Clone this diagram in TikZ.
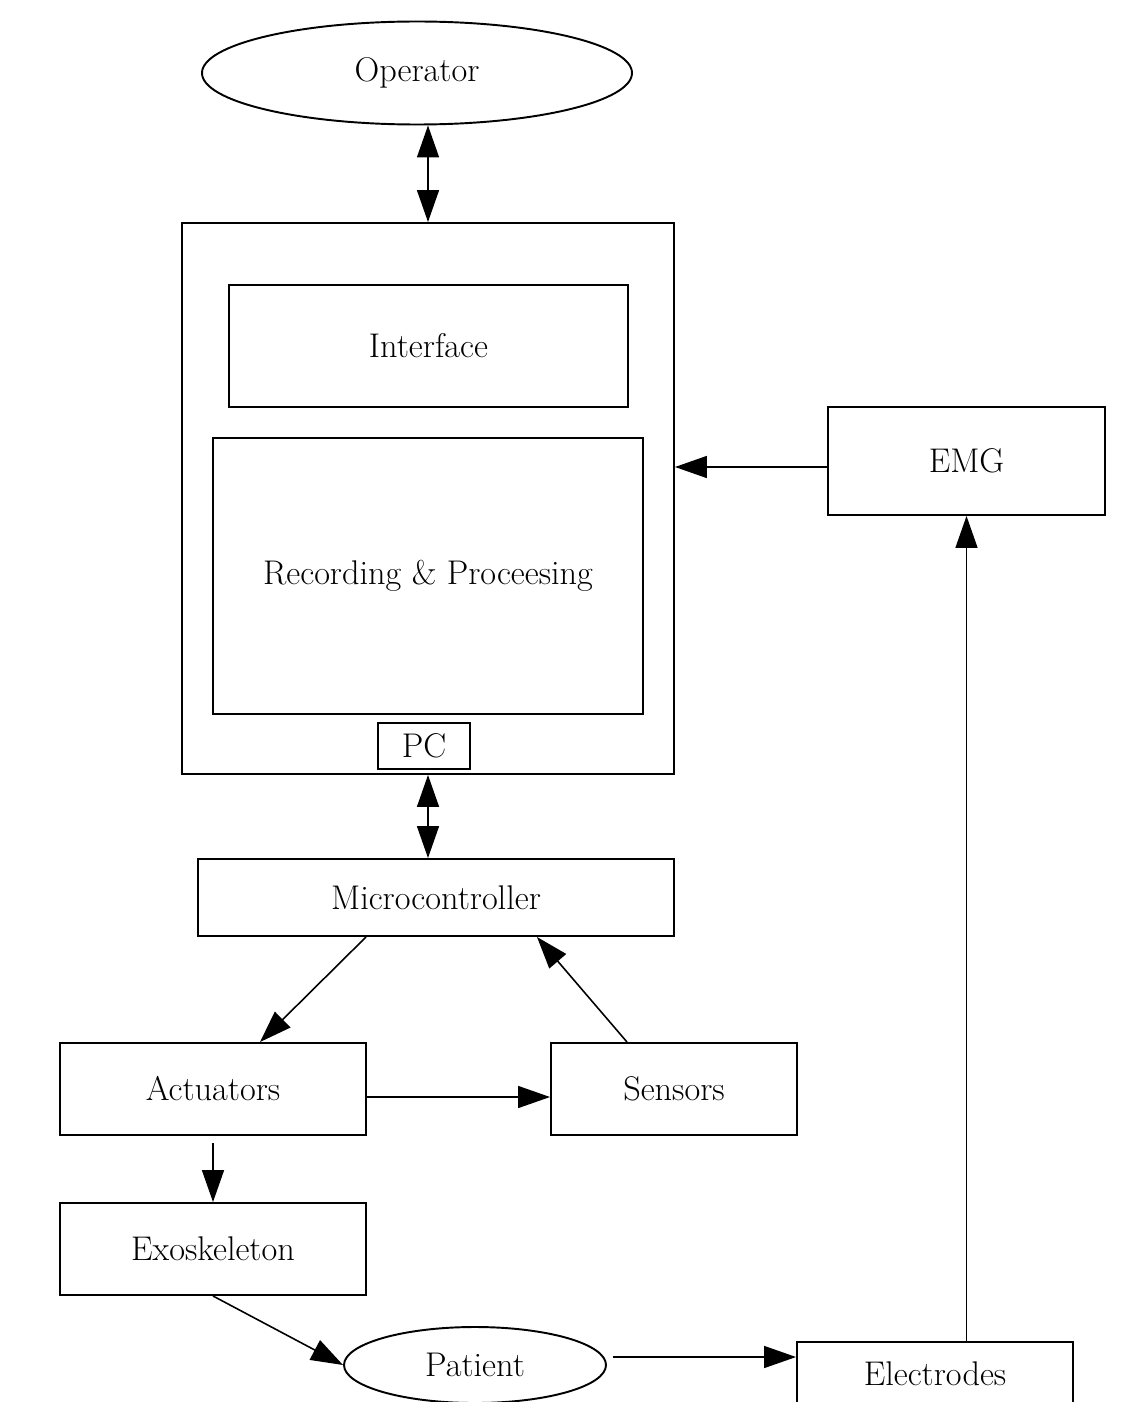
\documentclass[tikz,border=0pt]{standalone}
\usetikzlibrary{shapes.geometric,arrows.meta}
\tikzset{box/.style 2 args={rectangle,draw,line width=1.1pt,minimum width={#1*0.02cm},minimum height={#2*0.02cm},inner sep=0pt}}
\tikzset{oval/.style 2 args={ellipse,draw,line width=1.1pt,minimum width={#1*0.02cm},minimum height={#2*0.02cm},inner sep=0pt}}
\tikzset{lnk/.style={line width=0.9pt,-{Triangle[length=0.64cm,width=0.44cm]}}}
\tikzset{dbl/.style={line width=0.9pt,{Triangle[length=0.64cm,width=0.44cm]}-{Triangle[length=0.64cm,width=0.44cm]}}}

\begin{document}
\begin{tikzpicture}[x=0.02cm,y=-0.02cm,font=\fontsize{19.5}{23}\selectfont]
      \useasboundingbox (0,0) rectangle (1145,1402);
      \node[oval={430}{103}] (op) at (417,73) {Operator};
      \node[box={492}{551}] (pcbox) at (428,498.5) {};
      \node[box={399}{122}] (iface) at (428.5,346) {Interface};
      \node[box={430}{276}] (rec) at (428,576) {Recording \& Proceesing};
      \node[box={92}{46}] (pc) at (424,746) {PC};
      \node[box={476}{77}] (micro) at (436,897.5) {Microcontroller};
      \node[box={306}{92}] (act) at (213,1089) {Actuators};
      \node[box={246}{92}] (sens) at (674,1089) {Sensors};
      \node[box={306}{92}] (exo) at (213,1249) {Exoskeleton};
      \node[oval={262}{76}] (pat) at (475,1365) {Patient};
      \node[box={277}{108}] (emg) at (966.5,461) {EMG};
      \node[box={276}{64}] (elec) at (935,1374) {Electrodes};
%      links
      \draw[dbl] (op.south -| pcbox.north) -- (pcbox.north);
      \draw[dbl] (pcbox.south) -- (pcbox.south |- micro.north);
      \draw[lnk] ([xshift=-1.4cm]micro.south) -- ([xshift=0.94cm]act.north);
      \draw[lnk] ([xshift=-0.94cm]sens.north) -- ([xshift=2.02cm]micro.south);
      \draw[lnk] ([yshift=-0.16cm]act.east) coordinate (a1) -- (sens.west |- a1);
      \draw[lnk] ([yshift=-0.14cm]act.south) -- (exo.north);
      \draw[lnk] (exo.south) -- (pat.west);
      \draw[lnk] ([xshift=0.12cm,yshift=0.16cm]pat.east) coordinate (p1) -- (elec.west |- p1);
      \draw[lnk] (emg.south |- elec.north) -- (emg.south);
      \draw[lnk] ([yshift=-0.12cm]emg.west) coordinate (e1) -- (pcbox.east |- e1);
\end{tikzpicture}
\end{document}
